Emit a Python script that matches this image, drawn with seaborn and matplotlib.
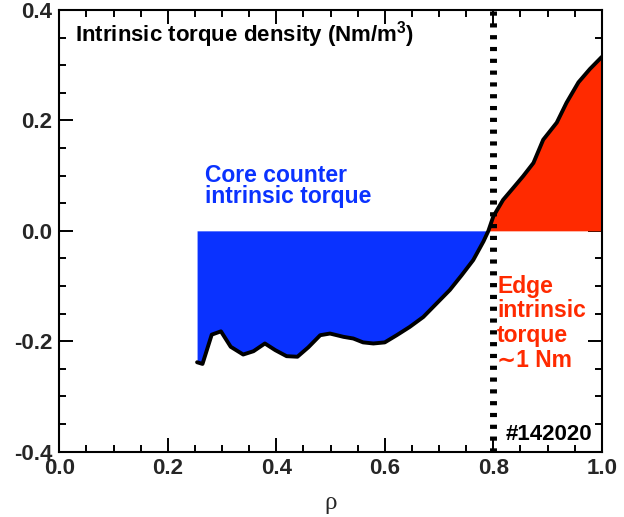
import numpy as np
import pandas as pd
import matplotlib
matplotlib.use("Agg")
import matplotlib.pyplot as plt
import seaborn as sns

rho = [0.254, 0.264, 0.281, 0.298, 0.316, 0.339, 0.358, 0.379, 0.398, 0.419,
       0.439, 0.459, 0.481, 0.499, 0.524, 0.542, 0.560, 0.579, 0.600, 0.622,
       0.646, 0.671, 0.696, 0.720, 0.742, 0.763, 0.782, 0.791, 0.800, 0.818,
       0.837, 0.855, 0.874, 0.892, 0.917, 0.935, 0.957, 0.978, 1.000]
torque = [-0.238, -0.241, -0.188, -0.182, -0.210, -0.224, -0.218, -0.204, -0.216, -0.227,
          -0.228, -0.211, -0.189, -0.186, -0.192, -0.195, -0.202, -0.204, -0.202, -0.189,
          -0.174, -0.156, -0.131, -0.107, -0.080, -0.053, -0.019, 0.000, 0.026, 0.056,
          0.078, 0.099, 0.123, 0.165, 0.196, 0.232, 0.269, 0.293, 0.315]
x_ticks = [0.0, 0.2, 0.4, 0.6, 0.8, 1.0]
y_ticks = [-0.4, -0.2, 0.0, 0.2, 0.4]
rho_sep = 0.8
core_lines = ["Core counter", "intrinsic torque"]
edge_lines = ["Edge", "intrinsic", "torque", "∼1 Nm"]

df = pd.DataFrame({"rho": rho, "torque": torque})

sns.set_theme(style="ticks")
plt.rcParams["font.family"] = ["Liberation Sans", "DejaVu Sans"]
plt.rcParams["font.weight"] = "bold"

BLUE = "#0a32ff"
RED = "#ff2a00"

fig = plt.figure(figsize=(6.24, 5.17), dpi=100)
ax = fig.add_axes([0.095, 0.1263, 0.8694, 0.8544])

x = np.array(rho)
y = np.array(torque)
ax.fill_between(x, y, 0, where=y <= 0, interpolate=True, color=BLUE, linewidth=0)
ax.fill_between(x, y, 0, where=y >= 0, interpolate=True, color=RED, linewidth=0)
sns.lineplot(data=df, x="rho", y="torque", ax=ax, color="black", linewidth=2.8,
             sort=True, estimator=None)
ax.axvline(rho_sep, color="black", linewidth=5, linestyle=(0, (0.6, 1.1)),
           dash_capstyle="butt")

ax.set_xlim(0, 1)
ax.set_ylim(-0.4, 0.4)
ax.set_xticks(x_ticks)
ax.set_yticks(y_ticks)
ax.set_xticklabels([f"{v:.1f}" for v in x_ticks])
ax.set_yticklabels([f"{v:.1f}" for v in y_ticks])
ax.set_xticks(np.arange(0, 1.0001, 0.05), minor=True)
ax.set_yticks(np.arange(-0.4, 0.4001, 0.05), minor=True)
ax.tick_params(which="both", direction="in", top=True, right=True, width=1.4, color="black")
ax.tick_params(which="major", length=10, labelsize=16)
ax.tick_params(axis="x", which="major", pad=4.5)
ax.tick_params(axis="y", which="major", pad=5)
ax.tick_params(which="minor", length=5)
for lab in ax.get_xticklabels() + ax.get_yticklabels():
    lab.set_fontweight("bold")
for s in ax.spines.values():
    s.set_linewidth(1.5)
    s.set_color("black")

ax.set_xlabel("ρ", family="Liberation Serif", fontsize=18, fontweight="normal")
ax.xaxis.set_label_coords(0.5, -0.13)
ax.xaxis.label.set_va("baseline")
ax.set_ylabel("")

ax.text(0.029, 0.343, "Intrinsic torque density (Nm/m$^{\\mathregular{3}}$)",
        fontsize=16, fontweight="bold", color="black", ha="left", va="baseline")
for line, yy in zip(core_lines, [0.0888, 0.0507]):
    ax.text(0.269, yy, line, fontsize=16.5, fontweight="bold", color=BLUE,
            ha="left", va="baseline")
for line, yy in zip(edge_lines, [-0.112, -0.156, -0.201, -0.246]):
    ax.text(0.807, yy, line, fontsize=16.5, fontweight="bold", color=RED,
            ha="left", va="baseline")
ax.text(0.822, -0.379, "#142020", fontsize=16, fontweight="bold",
        color="black", ha="left", va="baseline")

fig.savefig("out.png", dpi=100)
